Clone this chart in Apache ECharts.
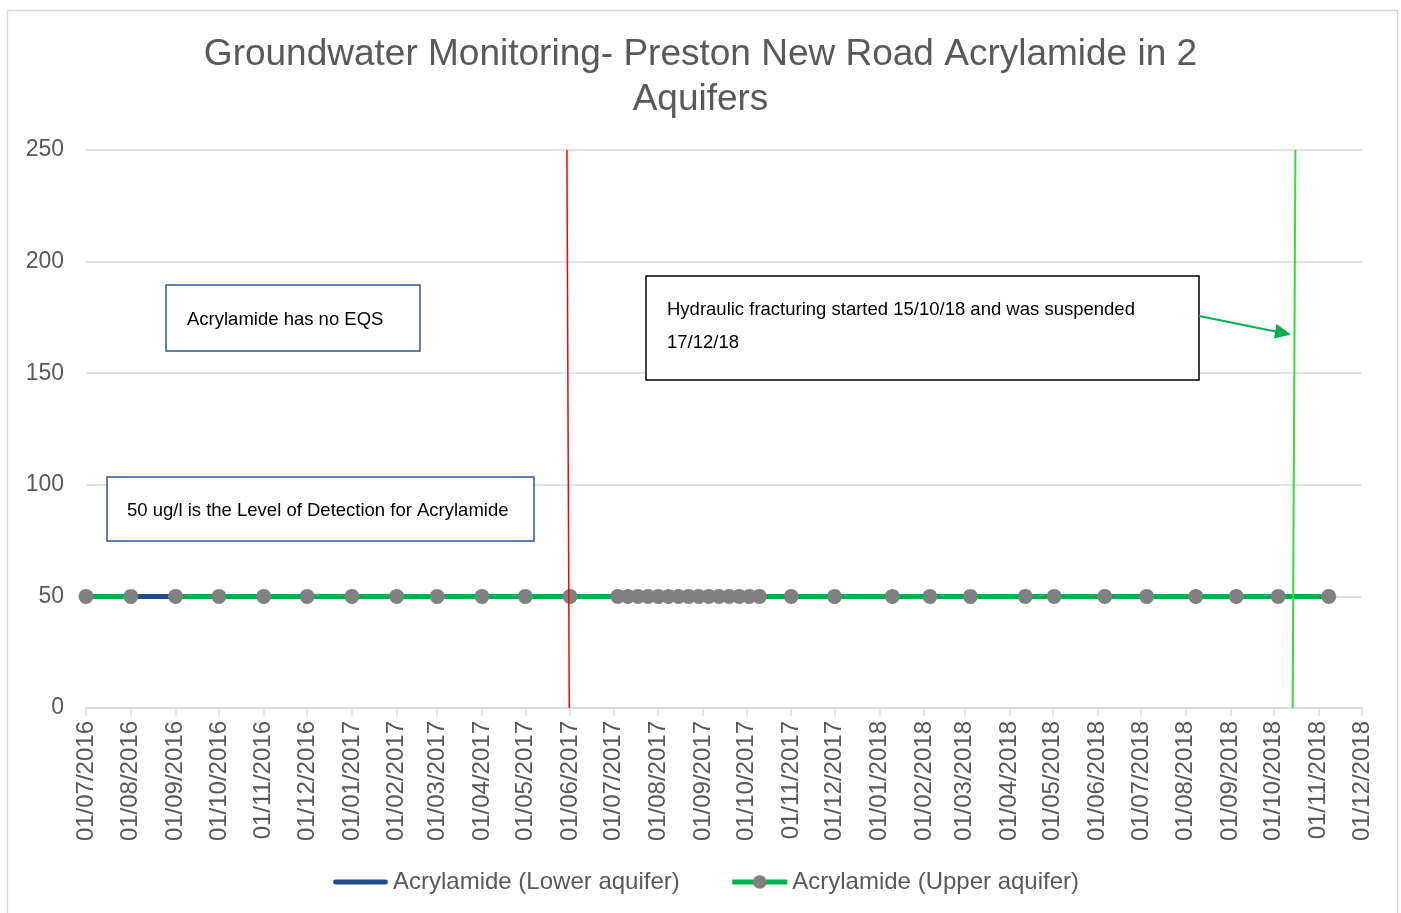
<!DOCTYPE html>
<html>
<head>
<meta charset="utf-8">
<script src="https://cdn.jsdelivr.net/npm/echarts@6/dist/echarts.min.js"></script>
<style>
html,body{margin:0;padding:0;background:#fff;}
#chart{width:1401px;height:913px;}
</style>
</head>
<body>
<div id="chart"></div>
<script>
// ---- Data ----
const titleText = 'Groundwater Monitoring- Preston New Road Acrylamide in 2\nAquifers';
const seriesNames = ['Acrylamide (Lower aquifer)', 'Acrylamide (Upper aquifer)'];

const sampleDates = [
  '2016-07-01','2016-08-01','2016-09-01','2016-10-01','2016-11-01','2016-12-01',
  '2017-01-01','2017-02-01','2017-03-01','2017-04-01','2017-05-01','2017-06-01',
  '2017-07-04','2017-07-11','2017-07-18','2017-07-25','2017-08-01','2017-08-08',
  '2017-08-15','2017-08-22','2017-08-29','2017-09-05','2017-09-12','2017-09-19',
  '2017-09-26','2017-10-03','2017-10-10','2017-11-01','2017-12-01','2018-01-10',
  '2018-02-05','2018-03-05','2018-04-12','2018-05-02','2018-06-06','2018-07-05',
  '2018-08-08','2018-09-05','2018-10-04','2018-11-08'
];
const lowerValues = [
  50,50,50,50,50,50,50,50,50,50,50,50,50,50,50,50,50,50,50,50,
  50,50,50,50,50,50,50,50,50,50,50,50,50,50,50,50,50,50,50,50
];
const upperValues = [
  50,50,50,50,50,50,50,50,50,50,50,50,50,50,50,50,50,50,50,50,
  50,50,50,50,50,50,50,50,50,50,50,50,50,50,50,50,50,50,50,50
];
// gap in upper-aquifer line (no result between these samples)
const upperGapDates = ['2016-08-16'];

const tickDates = [
  '2016-07-01','2016-08-01','2016-09-01','2016-10-01','2016-11-01','2016-12-01',
  '2017-01-01','2017-02-01','2017-03-01','2017-04-01','2017-05-01','2017-06-01',
  '2017-07-01','2017-08-01','2017-09-01','2017-10-01','2017-11-01','2017-12-01',
  '2018-01-01','2018-02-01','2018-03-01','2018-04-01','2018-05-01','2018-06-01',
  '2018-07-01','2018-08-01','2018-09-01','2018-10-01','2018-11-01','2018-12-01'
];
const yTicks = [0, 50, 100, 150, 200, 250];

// vertical reference lines [top point, bottom point]
const redLineDates = ['2017-05-29T19:00:00', '2017-05-31T10:00:00'];
const fracLineDates = ['2018-10-15T22:00:00', '2018-10-14T00:00:00'];

const noteEQS = 'Acrylamide has no EQS';
const noteLOD = '50 ug/l is the Level of Detection for Acrylamide';
const noteFrac = ['Hydraulic fracturing started 15/10/18 and was suspended', '17/12/18'];

// ---- Build ----
function ts(s) {
  const p = s.split(/[-T:]/).map(Number);
  return Date.UTC(p[0], p[1] - 1, p[2], p[3] || 0, p[4] || 0, 0);
}
const lowerData = sampleDates.map((d, i) => [ts(d), lowerValues[i]]);
let upperData = sampleDates.map((d, i) => [ts(d), upperValues[i]]);
upperGapDates.forEach(g => upperData.push([ts(g), null]));
upperData.sort((a, b) => a[0] - b[0]);
const tickValues = tickDates.map(ts);

function pad(n) { return (n < 10 ? '0' : '') + n; }
function fmt(v) {
  const d = new Date(v);
  return pad(d.getUTCDate()) + '/' + pad(d.getUTCMonth() + 1) + '/' + d.getUTCFullYear();
}

const chart = echarts.init(document.getElementById('chart'), null, { renderer: 'canvas' });
const FONT = '"Liberation Sans", Arial, sans-serif';
const gray = '#595959';
const blue = '#1F4E8C';
const green = '#00B050';

const option = {
  backgroundColor: '#fff',
  animation: false,
  title: {
    text: titleText,
    left: 'center',
    top: 27,
    textStyle: { fontFamily: FONT, fontSize: 37, fontWeight: 'normal', color: gray, lineHeight: 45 }
  },
  grid: { left: 86, right: 39, top: 150, bottom: 205, containLabel: false },
  legend: {
    top: 865,
    left: 328,
    itemWidth: 55,
    itemHeight: 17,
    itemGap: 50,
    itemTextGap: 4,
    data: [
      { name: seriesNames[0], icon: 'path://M2,0 L53,0 A2,2 0 0 1 53,5 L2,5 A2,2 0 0 1 2,0 Z', itemStyle: { color: blue } },
      { name: seriesNames[1], lineStyle: { width: 5, color: green }, itemStyle: { color: '#808080' } }
    ],
    textStyle: { fontFamily: FONT, fontSize: 24, color: gray }
  },
  xAxis: {
    type: 'value',
    min: tickValues[0],
    max: tickValues[tickValues.length - 1],
    scale: true,
    axisLine: { show: true, lineStyle: { color: '#d9d9d9', width: 1.5 } },
    axisTick: { show: true, length: 8, lineStyle: { color: '#d9d9d9', width: 1.5 }, customValues: tickValues },
    splitLine: { show: false },
    axisLabel: {
      customValues: tickValues,
      formatter: fmt,
      rotate: 90,
      margin: 13,
      fontFamily: FONT,
      fontSize: 24,
      color: gray,
      hideOverlap: false,
      showMinLabel: true,
      showMaxLabel: true
    }
  },
  yAxis: {
    type: 'value',
    min: yTicks[0],
    max: yTicks[yTicks.length - 1],
    interval: yTicks[1] - yTicks[0],
    axisLine: { show: false },
    axisTick: { show: false },
    splitLine: { lineStyle: { color: '#d9d9d9', width: 1.5 } },
    axisLabel: { margin: 22, fontFamily: FONT, fontSize: 23, color: gray, padding: [4, 0, 0, 0] }
  },
  series: [
    {
      name: seriesNames[0],
      type: 'line',
      data: lowerData,
      showSymbol: false,
      symbol: 'none',
      connectNulls: false,
      lineStyle: { color: blue, width: 5 },
      itemStyle: { color: blue },
      z: 2
    },
    {
      name: seriesNames[1],
      type: 'line',
      data: upperData,
      symbol: 'circle',
      symbolSize: 15,
      showAllSymbol: true,
      connectNulls: false,
      lineStyle: { color: green, width: 5 },
      itemStyle: { color: '#808080' },
      z: 3
    },
    {
      name: 'redline',
      type: 'line',
      data: [[ts(redLineDates[0]), yTicks[yTicks.length - 1]], [ts(redLineDates[1]), yTicks[0]]],
      symbol: 'none',
      lineStyle: { color: '#FF0000', width: 1.5 },
      z: 4,
      silent: true
    },
    {
      name: 'fracline',
      type: 'line',
      data: [[ts(fracLineDates[0]), yTicks[yTicks.length - 1]], [ts(fracLineDates[1]), yTicks[0]]],
      symbol: 'none',
      lineStyle: { color: '#33E033', width: 2 },
      z: 4,
      silent: true
    }
  ],
  graphic: [
    { type: 'rect', shape: { x: 7.5, y: 10.5, width: 1390, height: 920 }, style: { fill: 'none', stroke: '#d9d9d9', lineWidth: 1.5 }, silent: true, z: -10 },
    { type: 'rect', shape: { x: 166, y: 285, width: 254, height: 66 }, style: { fill: '#fff', stroke: '#2F5597', lineWidth: 1.5 }, z: 10 },
    { type: 'text', x: 187, y: 320, style: { text: noteEQS, fontFamily: FONT, fontSize: 18.5, fill: '#000', verticalAlign: 'middle' }, z: 11 },
    { type: 'rect', shape: { x: 107, y: 477, width: 427, height: 64 }, style: { fill: '#fff', stroke: '#2F5597', lineWidth: 1.5 }, z: 10 },
    { type: 'text', x: 127, y: 511, style: { text: noteLOD, fontFamily: FONT, fontSize: 18.5, fill: '#000', verticalAlign: 'middle' }, z: 11 },
    { type: 'rect', shape: { x: 646, y: 276, width: 553, height: 104 }, style: { fill: '#fff', stroke: '#000', lineWidth: 1.5 }, z: 10 },
    { type: 'text', x: 667, y: 310, style: { text: noteFrac[0], fontFamily: FONT, fontSize: 18.5, fill: '#000', verticalAlign: 'middle' }, z: 11 },
    { type: 'text', x: 667, y: 343, style: { text: noteFrac[1], fontFamily: FONT, fontSize: 18.5, fill: '#000', verticalAlign: 'middle' }, z: 11 },
    { type: 'line', shape: { x1: 1199, y1: 316, x2: 1278, y2: 332 }, style: { stroke: green, lineWidth: 2 }, z: 11 },
    { type: 'polygon', shape: { points: [[1291, 334.5], [1276.5, 324], [1274, 338.5]] }, style: { fill: green }, z: 11 }
  ]
};
chart.setOption(option);
</script>
</body>
</html>
